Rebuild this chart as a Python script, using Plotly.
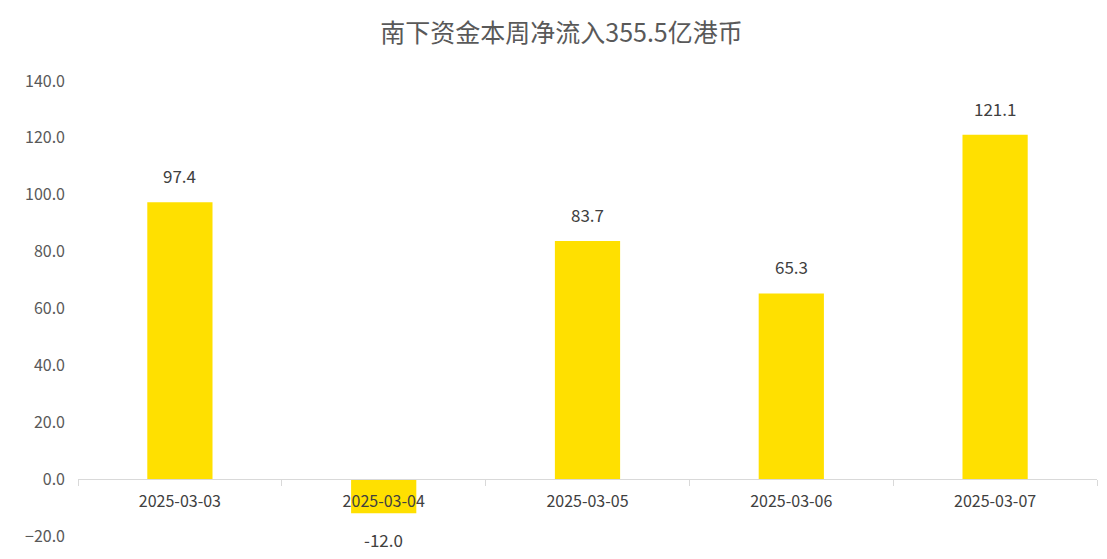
import plotly.graph_objects as go

dates = ["2025-03-03", "2025-03-04", "2025-03-05", "2025-03-06", "2025-03-07"]
values = [97.4, -12.0, 83.7, 65.3, 121.1]
title = "南下资金本周净流入355.5亿港币"
ymin, ymax = -20, 140

fig = go.Figure(go.Bar(
    x=dates, y=values, width=0.32,
    marker=dict(color="#FFE000", line=dict(width=0)),
))
for d, v in zip(dates, values):
    fig.add_annotation(x=d, y=v, text=f"{v:.1f}", showarrow=False,
                       yanchor="bottom" if v >= 0 else "top",
                       yshift=12 if v >= 0 else -12,
                       font=dict(size=17, color="#404040"))
fig.update_layout(
    width=1107, height=559, plot_bgcolor="white", paper_bgcolor="white",
    margin=dict(l=70, r=18, t=73, b=31, autoexpand=False),
    font=dict(family="Noto Sans CJK SC", color="#595959"),
    title=dict(text=title, x=0.5, xanchor="center", y=0.955, yanchor="middle",
               font=dict(size=25, color="#595959")),
    showlegend=False,
    xaxis=dict(type="category", anchor="free", position=(0 - ymin) / (ymax - ymin),
               showline=True, linecolor="#D9D9D9", ticks="outside", tickson="boundaries",
               tickcolor="#D9D9D9", ticklen=6, tickfont=dict(size=16, color="#404040"),
               ticklabelstandoff=8, showgrid=False, automargin=False),
    yaxis=dict(range=[ymin, ymax], dtick=20, tickformat=".1f", showgrid=False,
               zeroline=False, tickfont=dict(size=16, color="#595959"), ticklabelstandoff=12,
               automargin=False),
)
fig.write_html("out.html")
